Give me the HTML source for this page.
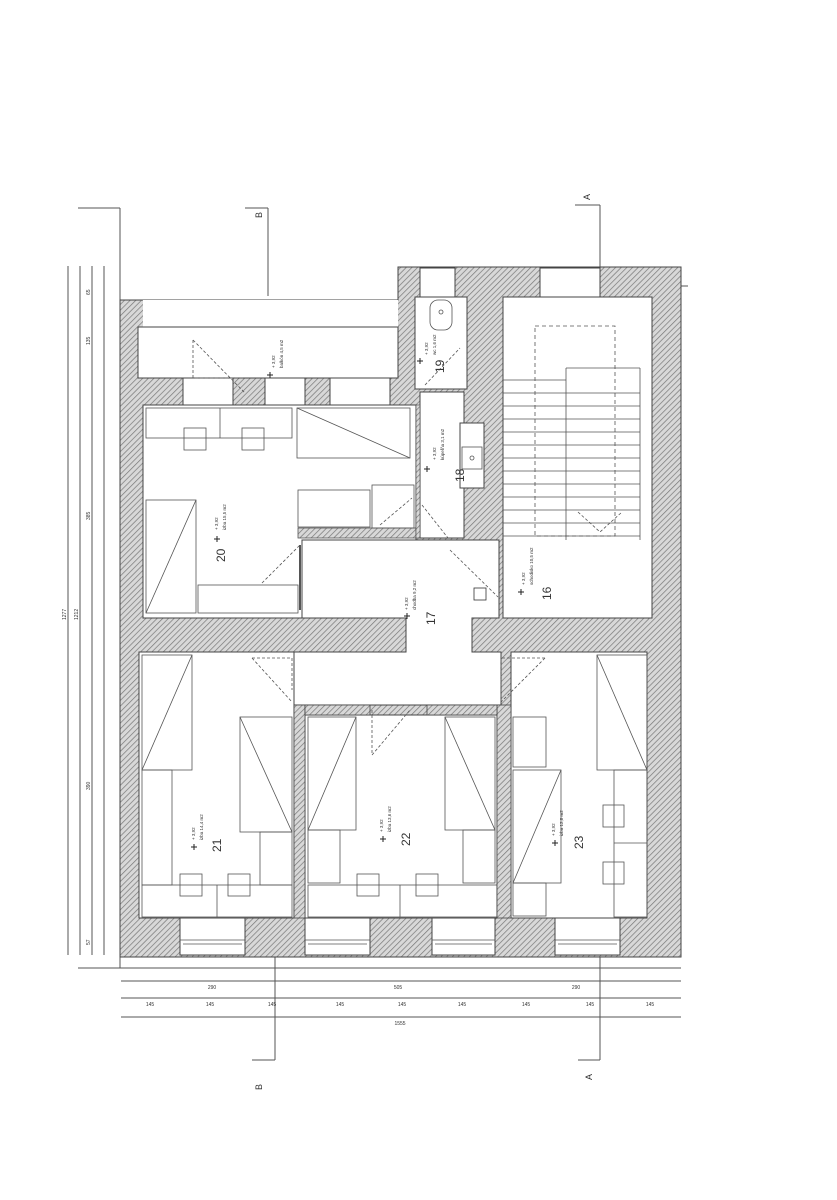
<!DOCTYPE html>
<html><head><meta charset="utf-8"><style>
html,body{margin:0;padding:0;background:#fff}
svg{display:block}
text{font-family:"Liberation Sans",sans-serif;fill:#333}
</style></head><body>
<svg width="837" height="1200" viewBox="0 0 837 1200" xmlns="http://www.w3.org/2000/svg">
<defs>
<pattern id="h" width="4" height="4" patternUnits="userSpaceOnUse" patternTransform="rotate(45)">
<rect width="4" height="4" fill="#d8d8d8"/><line x1="0" y1="0" x2="0" y2="4" stroke="#777" stroke-width="1.4"/>
</pattern>
</defs>
<g fill="none" stroke="#555" stroke-width="1">
<!-- left dim lines -->
<line x1="68" y1="266" x2="68" y2="955"/>
<line x1="80" y1="266" x2="80" y2="955"/>
<line x1="92" y1="266" x2="92" y2="955"/>
<line x1="104" y1="266" x2="104" y2="955"/>
<line x1="78" y1="208" x2="120" y2="208"/><line x1="120" y1="208" x2="120" y2="300"/>
<line x1="78" y1="968" x2="120" y2="968"/><line x1="120" y1="955" x2="120" y2="968"/>
<line x1="120" y1="968" x2="681" y2="968"/>
<!-- bottom dims -->
<line x1="121" y1="981" x2="681" y2="981"/>
<line x1="121" y1="998" x2="681" y2="998"/>
<line x1="121" y1="1017" x2="681" y2="1017"/>
<!-- section lines -->
<line x1="245" y1="208" x2="268" y2="208"/><line x1="268" y1="208" x2="268" y2="296"/>
<line x1="575" y1="205" x2="600" y2="205"/><line x1="600" y1="205" x2="600" y2="296"/>
<line x1="275" y1="930" x2="275" y2="1060"/><line x1="252" y1="1060" x2="275" y2="1060"/>
<line x1="600" y1="930" x2="600" y2="1060"/><line x1="578" y1="1060" x2="600" y2="1060"/>
<line x1="676" y1="286" x2="688" y2="286"/>
</g>
<g font-size="9" fill="#333">
<text transform="translate(262,218) rotate(-90)">B</text>
<text transform="translate(590,200) rotate(-90)">A</text>
<text transform="translate(262,1090) rotate(-90)">B</text>
<text transform="translate(592,1080) rotate(-90)">A</text>
<text transform="translate(66,620) rotate(-90)" font-size="5">1277</text>
<text transform="translate(78,620) rotate(-90)" font-size="5">1212</text>
<text transform="translate(90,295) rotate(-90)" font-size="5">65</text>
<text transform="translate(90,345) rotate(-90)" font-size="5">135</text>
<text transform="translate(90,520) rotate(-90)" font-size="5">385</text>
<text transform="translate(90,790) rotate(-90)" font-size="5">390</text>
<text transform="translate(90,945) rotate(-90)" font-size="5">57</text>
</g>
<g font-size="5" text-anchor="middle" fill="#444">
<text x="212" y="989">290</text><text x="398" y="989">505</text><text x="576" y="989">290</text>
<text x="150" y="1006">145</text><text x="210" y="1006">145</text><text x="272" y="1006">145</text><text x="340" y="1006">145</text><text x="402" y="1006">145</text><text x="462" y="1006">145</text><text x="526" y="1006">145</text><text x="590" y="1006">145</text><text x="650" y="1006">145</text>
<text x="400" y="1025">1555</text>
</g>
<!-- walls -->
<path d="M120 300 L398 300 L398 267 L681 267 L681 957 L120 957 Z" fill="url(#h)" stroke="#444"/>
<g fill="#fff" stroke="#444" stroke-width="1">
<!-- balcony -->
<rect x="143" y="300" width="255" height="27" stroke="none"/>
<rect x="138" y="327" width="260" height="51"/>
<rect x="183" y="378" width="50" height="27" />
<rect x="265" y="378" width="40" height="27"/>
<rect x="330" y="378" width="60" height="27"/>
<!-- 19 -->
<rect x="415" y="297" width="52" height="92"/>
<rect x="420" y="268" width="35" height="29"/>
<!-- 16 -->
<rect x="503" y="297" width="149" height="321"/>
<rect x="540" y="268" width="60" height="29"/>
<!-- 20 -->
<rect x="143" y="405" width="273" height="213"/>
<!-- 18 -->
<rect x="420" y="392" width="44" height="146"/>
<rect x="460" y="423" width="24" height="65"/>
<!-- corridor -->
<path d="M302 540 L499 540 L499 618 L472 618 L472 652 L501 652 L501 705 L294 705 L294 652 L406 652 L406 618 L302 618 Z"/>
<!-- 21 22 23 -->
<rect x="139" y="652" width="155" height="266"/>
<rect x="305" y="715" width="192" height="203"/>
<rect x="511" y="652" width="136" height="266"/>
<!-- windows bottom -->
<rect x="180" y="918" width="65" height="37"/>
<rect x="305" y="918" width="65" height="37"/>
<rect x="432" y="918" width="63" height="37"/>
<rect x="555" y="918" width="65" height="37"/>
</g>
<g fill="none" stroke="#555" stroke-width="0.8">
<!-- room 20 furniture -->
<rect x="146" y="408" width="146" height="30"/><line x1="220" y1="408" x2="220" y2="438"/>
<rect x="184" y="428" width="22" height="22"/><rect x="242" y="428" width="22" height="22"/>
<rect x="297" y="408" width="113" height="50"/><line x1="297" y1="408" x2="410" y2="458"/>
<rect x="146" y="500" width="50" height="113"/><line x1="146" y1="613" x2="196" y2="500"/>
<rect x="198" y="585" width="100" height="28"/>
<rect x="298" y="490" width="72" height="37"/>
<rect x="298" y="528" width="118" height="10" fill="url(#h)"/>
<rect x="372" y="485" width="42" height="43"/>
<line x1="262" y1="583" x2="300" y2="545" stroke-dasharray="3 2"/>
<line x1="300" y1="545" x2="300" y2="610" stroke-width="2"/>
<!-- balcony door -->
<polyline points="193,340 193,378 245,378" stroke-dasharray="3 2"/>
<line x1="193" y1="340" x2="245" y2="393" stroke-dasharray="3 2"/>
<!-- 19 fixtures -->
<rect x="430" y="300" width="22" height="30" rx="8"/><circle cx="441" cy="312" r="2"/>
<line x1="425" y1="385" x2="460" y2="348" stroke-dasharray="3 2"/>
<!-- 18 -->
<rect x="462" y="447" width="20" height="22"/><circle cx="472" cy="458" r="2"/>
<line x1="422" y1="505" x2="448" y2="538" stroke-dasharray="3 2"/>
<line x1="380" y1="525" x2="412" y2="498" stroke-dasharray="3 2"/>
<!-- stairs -->
<rect x="535" y="326" width="80" height="210" stroke-dasharray="4 3"/>
<line x1="566" y1="368" x2="566" y2="540"/>
<line x1="566" y1="368" x2="640" y2="368"/>
<line x1="503" y1="380" x2="566" y2="380"/><line x1="503" y1="393" x2="640" y2="393"/>
<line x1="503" y1="406" x2="640" y2="406"/><line x1="503" y1="419" x2="640" y2="419"/>
<line x1="503" y1="432" x2="640" y2="432"/><line x1="503" y1="445" x2="640" y2="445"/>
<line x1="503" y1="458" x2="640" y2="458"/><line x1="503" y1="471" x2="640" y2="471"/>
<line x1="503" y1="484" x2="640" y2="484"/><line x1="503" y1="497" x2="640" y2="497"/>
<line x1="503" y1="510" x2="640" y2="510"/><line x1="503" y1="523" x2="640" y2="523"/>
<line x1="503" y1="536" x2="640" y2="536"/>
<line x1="640" y1="368" x2="640" y2="540"/>
<polyline points="578,512 600,532 622,512" stroke-dasharray="3 2"/>
<line x1="450" y1="550" x2="498" y2="597" stroke-dasharray="3 2"/>
<rect x="474" y="588" width="12" height="12" stroke="#333"/>
<!-- room 21 -->
<rect x="142" y="655" width="50" height="115"/><line x1="142" y1="770" x2="192" y2="655"/>
<rect x="142" y="770" width="30" height="115"/>
<rect x="240" y="717" width="52" height="115"/><line x1="240" y1="717" x2="292" y2="832"/>
<rect x="260" y="832" width="32" height="53"/>
<rect x="142" y="885" width="150" height="32"/><line x1="217" y1="885" x2="217" y2="917"/>
<rect x="180" y="874" width="22" height="22"/><rect x="228" y="874" width="22" height="22"/>
<polyline points="252,658 292,658 292,690" stroke-dasharray="3 2"/><line x1="252" y1="658" x2="292" y2="702" stroke-dasharray="3 2"/>
<!-- room 22 -->
<rect x="308" y="717" width="48" height="113"/><line x1="308" y1="830" x2="356" y2="717"/>
<rect x="308" y="830" width="32" height="53"/>
<rect x="445" y="717" width="50" height="113"/><line x1="445" y1="717" x2="495" y2="830"/>
<rect x="463" y="830" width="32" height="53"/>
<rect x="308" y="885" width="189" height="32"/><line x1="400" y1="885" x2="400" y2="917"/>
<rect x="357" y="874" width="22" height="22"/><rect x="416" y="874" width="22" height="22"/>
<polyline points="372,710 372,755 410,710" stroke-dasharray="3 2"/>
<!-- room 23 -->
<rect x="513" y="717" width="33" height="50"/>
<rect x="513" y="770" width="48" height="113"/><line x1="513" y1="883" x2="561" y2="770"/>
<rect x="513" y="883" width="33" height="33"/>
<rect x="597" y="655" width="50" height="115"/><line x1="597" y1="655" x2="647" y2="770"/>
<rect x="614" y="770" width="33" height="147"/><line x1="614" y1="843" x2="647" y2="843"/>
<rect x="603" y="805" width="21" height="22"/><rect x="603" y="862" width="21" height="22"/>
<polyline points="545,658 501,658 501,702" stroke-dasharray="3 2"/><line x1="545" y1="658" x2="501" y2="702" stroke-dasharray="3 2"/>
<!-- windows inner lines -->
<line x1="180" y1="940" x2="245" y2="940"/><line x1="305" y1="940" x2="370" y2="940"/>
<line x1="432" y1="940" x2="495" y2="940"/><line x1="555" y1="940" x2="620" y2="940"/>
<line x1="183" y1="944" x2="242" y2="944"/><line x1="308" y1="944" x2="367" y2="944"/>
<line x1="435" y1="944" x2="492" y2="944"/><line x1="558" y1="944" x2="617" y2="944"/>
</g>
<!-- hatched thin walls around 22 -->
<rect x="294" y="705" width="11" height="213" fill="url(#h)" stroke="#444" stroke-width="0.8"/>
<rect x="497" y="705" width="14" height="213" fill="url(#h)" stroke="#444" stroke-width="0.8"/>
<rect x="305" y="705" width="65" height="10" fill="url(#h)" stroke="#444" stroke-width="0.8"/>
<rect x="427" y="705" width="70" height="10" fill="url(#h)" stroke="#444" stroke-width="0.8"/>
<rect x="416" y="405" width="4" height="133" fill="url(#h)" stroke="#444" stroke-width="0.6"/>
<!-- labels -->
<g font-size="12">
<text transform="translate(225,562) rotate(-90)">20</text>
<text transform="translate(444,373) rotate(-90)">19</text>
<text transform="translate(464,482) rotate(-90)">18</text>
<text transform="translate(435,625) rotate(-90)">17</text>
<text transform="translate(551,600) rotate(-90)">16</text>
<text transform="translate(221,852) rotate(-90)">21</text>
<text transform="translate(410,846) rotate(-90)">22</text>
<text transform="translate(583,849) rotate(-90)">23</text>
</g>
<g font-size="4.5">
<text transform="translate(218,530) rotate(-90)">+ 3,92</text><text transform="translate(226,530) rotate(-90)">izba 15,5 m2</text>
<text transform="translate(275,368) rotate(-90)">+ 3,92</text><text transform="translate(283,368) rotate(-90)">balkón 4,5 m2</text>
<text transform="translate(428,355) rotate(-90)">+ 3,92</text><text transform="translate(436,355) rotate(-90)">wc 1,6 m2</text>
<text transform="translate(436,460) rotate(-90)">+ 3,92</text><text transform="translate(444,460) rotate(-90)">kúpeľňa 3,1 m2</text>
<text transform="translate(408,610) rotate(-90)">+ 3,92</text><text transform="translate(416,610) rotate(-90)">chodba 9,2 m2</text>
<text transform="translate(525,585) rotate(-90)">+ 3,92</text><text transform="translate(533,585) rotate(-90)">schodisko 10,5 m2</text>
<text transform="translate(195,840) rotate(-90)">+ 3,92</text><text transform="translate(203,840) rotate(-90)">izba 14,4 m2</text>
<text transform="translate(383,832) rotate(-90)">+ 3,92</text><text transform="translate(391,832) rotate(-90)">izba 13,6 m2</text>
<text transform="translate(555,836) rotate(-90)">+ 3,92</text><text transform="translate(563,836) rotate(-90)">izba 12,8 m2</text>
</g>
<g stroke="#222" stroke-width="1">
<path d="M217 536 v6 M214 539 h6 M270 372 v6 M267 375 h6 M420 358 v6 M417 361 h6 M427 466 v6 M424 469 h6 M407 613 v6 M404 616 h6 M521 589 v6 M518 592 h6 M194 844 v6 M191 847 h6 M383 836 v6 M380 839 h6 M555 840 v6 M552 843 h6"/>
</g>
</svg>
</body></html>
